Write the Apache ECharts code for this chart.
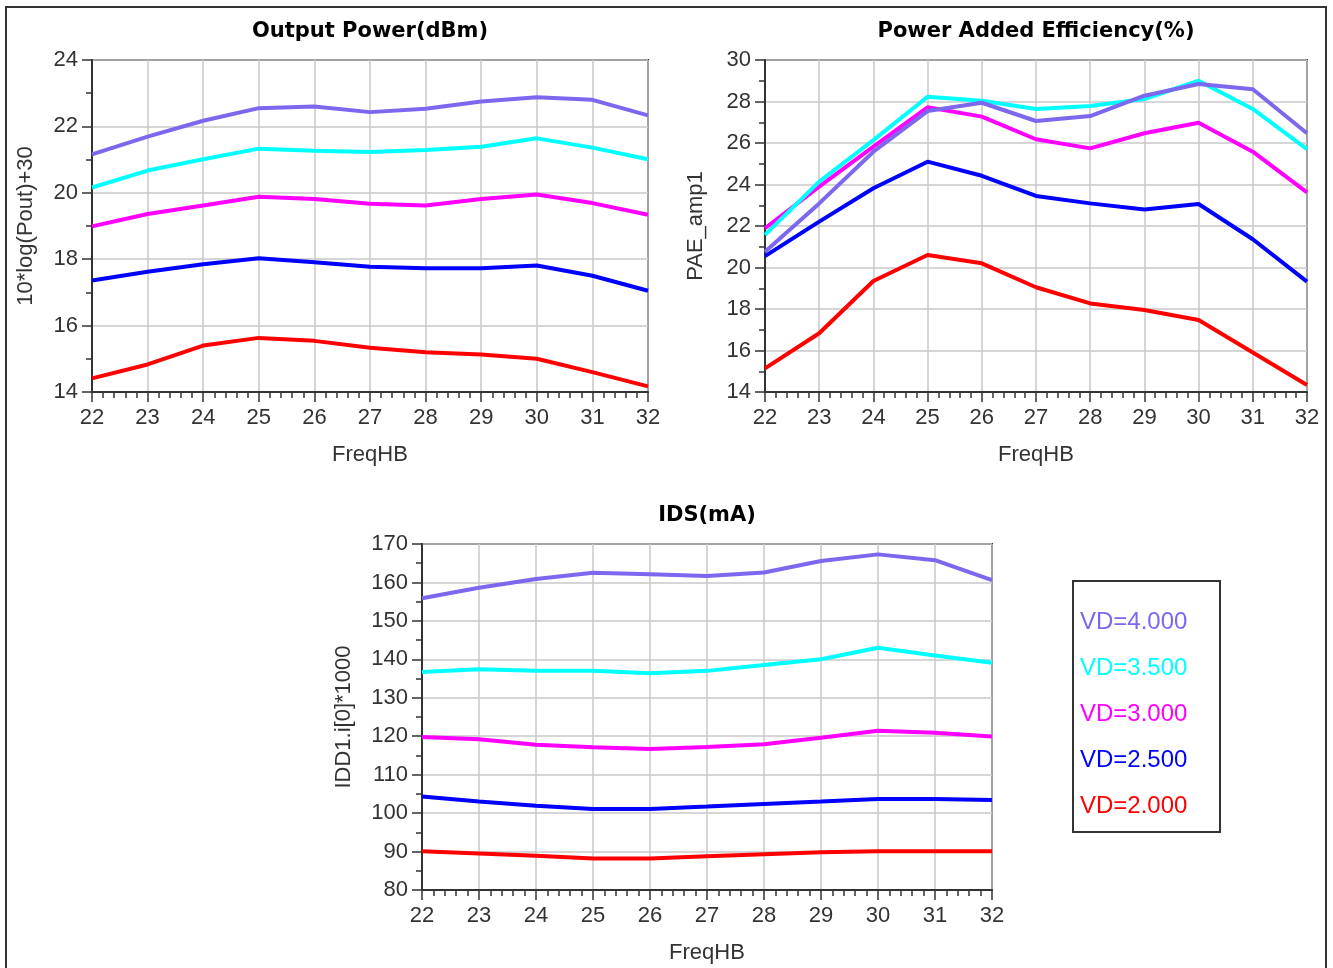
<!DOCTYPE html>
<html>
<head>
<meta charset="utf-8">
<title>VD sweep</title>
<script src="https://cdn.jsdelivr.net/npm/echarts@6/dist/echarts.min.js"></script>
<style>
  html, body { margin: 0; padding: 0; background: #fff; }
  #chart { width: 1333px; height: 968px; }
</style>
</head>
<body>
<div id="chart"></div>
<script>
// frequency points (FreqHB)
const freq = [22, 23, 24, 25, 26, 27, 28, 29, 30, 31, 32];
const vdNames = ['VD=4.000', 'VD=3.500', 'VD=3.000', 'VD=2.500', 'VD=2.000'];
const vdColors = ['#7B68EE', '#00FFFF', '#FF00FF', '#0000FF', '#FF0000'];

// Output Power (dBm)
const pout40 = [21.16, 21.69, 22.17, 22.55, 22.60, 22.43, 22.53, 22.75, 22.88, 22.80, 22.33];
const pout35 = [20.16, 20.67, 21.01, 21.33, 21.27, 21.23, 21.29, 21.39, 21.64, 21.36, 21.01];
const pout30 = [18.99, 19.36, 19.62, 19.88, 19.81, 19.67, 19.62, 19.81, 19.95, 19.69, 19.34];
const pout25 = [17.36, 17.62, 17.85, 18.03, 17.91, 17.77, 17.73, 17.73, 17.81, 17.50, 17.05];
const pout20 = [14.41, 14.83, 15.40, 15.63, 15.54, 15.33, 15.20, 15.13, 15.00, 14.60, 14.17];

// Power Added Efficiency (%)
const pae40 = [20.76, 23.09, 25.58, 27.54, 27.94, 27.06, 27.30, 28.28, 28.84, 28.59, 26.47];
const pae35 = [21.57, 24.14, 26.14, 28.23, 28.04, 27.64, 27.78, 28.12, 29.00, 27.64, 25.71];
const pae30 = [21.89, 23.90, 25.82, 27.72, 27.27, 26.18, 25.74, 26.47, 26.98, 25.58, 23.62];
const pae25 = [20.55, 22.21, 23.82, 25.10, 24.42, 23.45, 23.09, 22.80, 23.06, 21.36, 19.32];
const pae20 = [15.14, 16.83, 19.35, 20.60, 20.20, 19.05, 18.27, 17.95, 17.47, 15.90, 14.34];

// IDS (mA)
const ids40 = [155.9, 158.6, 160.9, 162.5, 162.1, 161.7, 162.6, 165.6, 167.3, 165.8, 160.6];
const ids35 = [136.7, 137.4, 137.0, 137.0, 136.4, 137.0, 138.5, 140.0, 143.0, 141.0, 139.1];
const ids30 = [119.8, 119.2, 117.8, 117.1, 116.7, 117.2, 117.9, 119.6, 121.4, 120.9, 119.9];
const ids25 = [104.3, 103.0, 101.9, 101.1, 101.1, 101.7, 102.4, 103.0, 103.7, 103.7, 103.4];
const ids20 = [90.1, 89.5, 88.9, 88.2, 88.2, 88.8, 89.3, 89.8, 90.1, 90.1, 90.1];

const poutSets = [pout40, pout35, pout30, pout25, pout20];
const paeSets = [pae40, pae35, pae30, pae25, pae20];
const idsSets = [ids40, ids35, ids30, ids25, ids20];

const labelFont = 'Liberation Sans, Arial, sans-serif';
const frameColor = '#333';
const gridLineColor = '#c8c8c8';
const titleStyle = { fontFamily: 'DejaVu Sans', fontWeight: 'bold', fontSize: 21, color: '#000' };

function xAxisFor(gridIndex) {
  return {
    type: 'value',
    gridIndex: gridIndex,
    min: 22,
    max: 32,
    interval: 1,
    name: 'FreqHB',
    nameLocation: 'middle',
    nameGap: 52,
    nameTextStyle: { fontFamily: labelFont, fontSize: 22, color: '#333' },
    axisLine: { show: true, onZero: false, lineStyle: { color: frameColor, width: 2 } },
    axisTick: { show: true, length: 10, lineStyle: { color: frameColor, width: 1.5 } },
    minorTick: { show: true, splitNumber: 5, length: 6, lineStyle: { color: frameColor, width: 1.5 } },
    axisLabel: { fontFamily: labelFont, fontSize: 22, color: '#333', margin: 15 },
    splitLine: { show: true, lineStyle: { color: gridLineColor, width: 1.5 } }
  };
}

function yAxisFor(gridIndex, min, max, interval, name, gap) {
  return {
    type: 'value',
    gridIndex: gridIndex,
    min: min,
    max: max,
    interval: interval,
    name: name,
    nameLocation: 'middle',
    nameGap: gap,
    nameTextStyle: { fontFamily: labelFont, fontSize: 22, color: '#333' },
    axisLine: { show: true, onZero: false, lineStyle: { color: frameColor, width: 2 } },
    axisTick: { show: true, length: 10, lineStyle: { color: frameColor, width: 1.5 } },
    minorTick: { show: true, splitNumber: 2, length: 6, lineStyle: { color: frameColor, width: 1.5 } },
    axisLabel: { fontFamily: labelFont, fontSize: 22, color: '#333', margin: 14 },
    splitLine: { show: true, lineStyle: { color: gridLineColor, width: 1.5 } }
  };
}

function seriesFor(axisIndex, sets) {
  return sets.map((vals, i) => ({
    name: vdNames[i],
    type: 'line',
    xAxisIndex: axisIndex,
    yAxisIndex: axisIndex,
    data: freq.map((f, k) => [f, vals[k]]),
    showSymbol: false,
    symbol: 'none',
    z: 10 - i,
    lineStyle: { color: vdColors[i], width: 4 },
    itemStyle: { color: vdColors[i] }
  }));
}

const chart = echarts.init(document.getElementById('chart'));
chart.setOption({
  animation: false,
  backgroundColor: '#fff',
  title: [
    { text: 'Output Power(dBm)', left: 370, top: 21, textAlign: 'center', padding: 0, textStyle: titleStyle },
    { text: 'Power Added Efficiency(%)', left: 1036, top: 21, textAlign: 'center', padding: 0, textStyle: titleStyle },
    { text: 'IDS(mA)', left: 707, top: 505, textAlign: 'center', padding: 0, textStyle: titleStyle }
  ],
  legend: {
    orient: 'vertical',
    left: 1070,
    top: 605,
    itemGap: 22,
    itemWidth: 0,
    itemHeight: 0,
    icon: 'none',
    selectedMode: false,
    textStyle: { fontFamily: labelFont, fontSize: 24 },
    data: vdNames.map((n, i) => ({ name: n, textStyle: { color: vdColors[i] } }))
  },
  grid: [
    { left: 92, top: 60, width: 556, height: 332, show: true, borderColor: frameColor, borderWidth: 2, backgroundColor: '#fff' },
    { left: 765, top: 60, width: 542, height: 332, show: true, borderColor: frameColor, borderWidth: 2, backgroundColor: '#fff' },
    { left: 422, top: 544, width: 570, height: 346, show: true, borderColor: frameColor, borderWidth: 2, backgroundColor: '#fff' }
  ],
  xAxis: [xAxisFor(0), xAxisFor(1), xAxisFor(2)],
  yAxis: [
    yAxisFor(0, 14, 24, 2, '10*log(Pout)+30', 55),
    yAxisFor(1, 14, 30, 2, 'PAE_amp1', 58),
    yAxisFor(2, 80, 170, 10, 'IDD1.i[0]*1000', 67)
  ],
  graphic: [
    { type: 'rect', shape: { x: 6, y: 7, width: 1320, height: 1000 },
      style: { fill: 'none', stroke: '#333', lineWidth: 2 }, silent: true, z: -1 },
    { type: 'rect', shape: { x: 1073, y: 581, width: 147, height: 251 },
      style: { fill: 'none', stroke: '#333', lineWidth: 2 }, silent: true }
  ],
  series: [].concat(seriesFor(0, poutSets), seriesFor(1, paeSets), seriesFor(2, idsSets))
});
</script>
</body>
</html>
